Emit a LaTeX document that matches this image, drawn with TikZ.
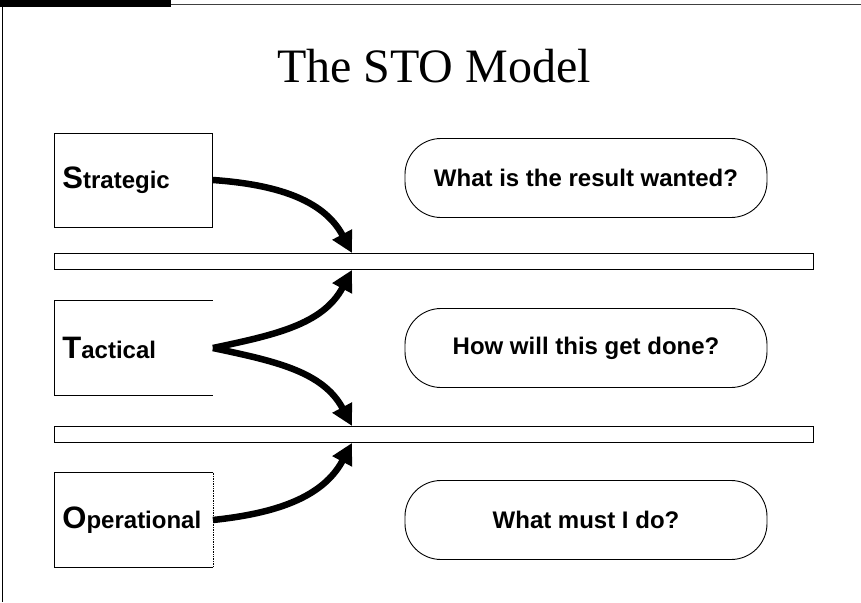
\documentclass[tikz,border=0pt]{standalone}
\usepackage{fontspec}
\setmainfont{Liberation Serif}
\setsansfont{Liberation Sans}
\usetikzlibrary{arrows.meta}

\newcommand\firstcap[1]{{\fontsize{31}{31}\selectfont #1}}

\begin{document}
\begin{tikzpicture}[x=1pt,y=-1pt,
  level/.style={minimum height=94pt, text width=142pt, inner xsep=8pt, inner ysep=0pt,
    align=left, anchor=west, line width=0.9pt,
    font=\sffamily\bfseries\fontsize{24}{28}\selectfont},
  question/.style={draw, line width=0.9pt, rounded corners=36pt, minimum width=362pt,
    minimum height=79pt, font=\sffamily\bfseries\fontsize{24}{28}\selectfont},
  divider/.style={draw, line width=0.9pt, minimum width=759pt, minimum height=16pt,
    inner sep=0pt, anchor=north west},
  flow/.style={line width=6.5pt, -{Triangle[length=21pt,width=21pt]}}]
\useasboundingbox (0,0) rectangle (861,602);
% page frame
\fill (0,0) rectangle (171,7);
\draw[line width=1pt, black!75] (171,5) -- (861,5);
\draw[line width=1.2pt] (2.5,7) -- (2.5,602);

\node (title) at (434,66) {\fontsize{48}{52}\selectfont The STO Model};

% the three levels and the two boundaries
\node[level, draw] (strat) at (54,180) {\firstcap{S}trategic};
\node[level] (tact) at (54,348) {\firstcap{T}actical};
\node[level] (oper) at (54,520) {\firstcap{O}perational};
\draw[line width=0.9pt] (tact.north east) -- (tact.north west) -- (tact.south west) -- (tact.south east);
\draw[line width=0.9pt] (oper.north east) -- (oper.north west) -- (oper.south west) -- (oper.south east);
\draw[line width=0.7pt, densely dotted] (oper.north east) -- (oper.south east);

\node[divider] (bar1) at (54,253) {};
\node[divider] (bar2) at (54,426) {};

\draw[flow] (strat.east) to[out=-4, in=118] ([xshift=298pt]bar1.north west);
\draw[flow] (tact.east) to[out=12, in=-118] ([xshift=298pt]bar1.south west);
\draw[flow] (tact.east) to[out=-12, in=118] ([xshift=298pt]bar2.north west);
\draw[flow] (oper.east) to[out=6, in=-118] ([xshift=298pt]bar2.south west);

\foreach \y/\q [count=\i] in {178/What is the result wanted?, 348/How will this get done?, 520/What must I do?}
  \node[question] (q\i) at (586,\y) {\q};
\end{tikzpicture}
\end{document}
